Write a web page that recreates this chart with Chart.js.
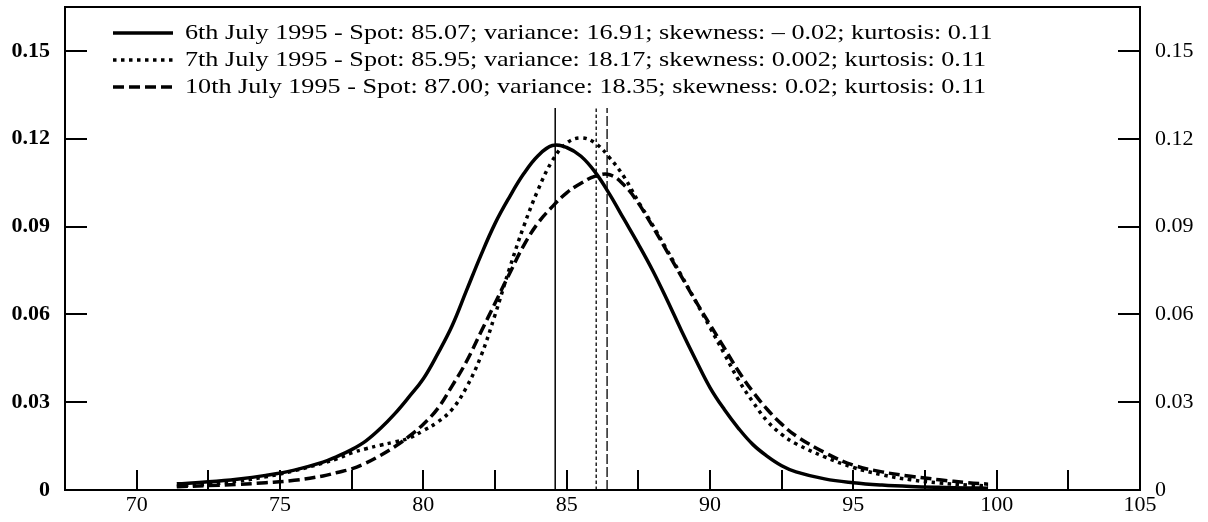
<!DOCTYPE html>
<html>
<head>
<meta charset="utf-8">
<script src="https://cdn.jsdelivr.net/npm/chart.js@4.4.1/dist/chart.umd.min.js"></script>
<style>
    html, body { margin: 0; padding: 0; background: #fff; }
    #wrap { width: 1208px; height: 522px; }
</style>
</head>
<body>
<div id="wrap"><canvas id="density-graph"></canvas></div>
<script>
const seriesLabels = [
    '6th July 1995 - Spot: 85.07; variance: 16.91; skewness: \u2013 0.02; kurtosis: 0.11',
    '7th July 1995 - Spot: 85.95; variance: 18.17; skewness: 0.002; kurtosis: 0.11',
    '10th July 1995 - Spot: 87.00; variance: 18.35; skewness: 0.02; kurtosis: 0.11'
];

// price grid shared by the three densities
const priceGrid = [71.4, 72.5, 73.5, 74.5, 75.5, 76.5,
    77, 77.5, 78, 78.5, 79, 79.5, 80, 80.5, 81, 81.5, 82, 82.5, 83, 83.5, 84, 84.5,
    85, 85.5, 86, 86.5, 87, 87.5, 88, 88.5, 89, 89.5, 90, 90.5, 91, 91.5, 92, 92.5, 93,
    94, 95, 96, 97, 98, 99, 99.7];

const july6 = [0.0021, 0.0028, 0.0037, 0.005, 0.0068, 0.0095,
    0.0115, 0.0138, 0.0168, 0.021, 0.026, 0.0318, 0.038, 0.0465, 0.056, 0.068, 0.080, 0.091, 0.100, 0.108, 0.1142, 0.1177,
    0.117, 0.114, 0.1085, 0.101, 0.0925, 0.084, 0.075, 0.065, 0.0545, 0.0445, 0.035, 0.0275, 0.021, 0.0155, 0.0115, 0.0083, 0.0062,
    0.0038, 0.0025, 0.0017, 0.0012, 0.0009, 0.0007, 0.0006];

const july7 = [0.0014, 0.002, 0.003, 0.0045, 0.0066, 0.0092,
    0.0107, 0.0127, 0.0141, 0.0153, 0.0164, 0.0177, 0.0203, 0.0232, 0.0275, 0.035, 0.0455, 0.0598, 0.0755, 0.090, 0.1025, 0.1125,
    0.1185, 0.1203, 0.1185, 0.1135, 0.107, 0.0985, 0.0905, 0.082, 0.0733, 0.0645, 0.0555, 0.0465, 0.0375, 0.030, 0.0235, 0.019, 0.0158,
    0.0113, 0.0077, 0.0052, 0.0035, 0.0024, 0.0017, 0.0014];

const july10 = [0.0011, 0.0015, 0.0019, 0.0025, 0.0033, 0.0048,
    0.006, 0.0072, 0.0092, 0.0118, 0.0148, 0.0183, 0.0225, 0.0278, 0.0355, 0.0438, 0.0538, 0.0638, 0.0738, 0.0835, 0.0912, 0.0968,
    0.1015, 0.1048, 0.1072, 0.1077, 0.1042, 0.098, 0.090, 0.0815, 0.073, 0.0645, 0.0565, 0.0485, 0.0405, 0.0335, 0.0275, 0.0225, 0.0185,
    0.0128, 0.0085, 0.0062, 0.0047, 0.0035, 0.0025, 0.002];

// vertical reference lines, one per day
const markerX = [84.6, 86.03, 86.41];
const markerTop = 0.1305;

const xTicks = [70, 75, 80, 85, 90, 95, 100, 105];
const xMinorTicks = [72.5, 77.5, 82.5, 87.5, 92.5, 97.5, 102.5];
const yTicks = [0, 0.03, 0.06, 0.09, 0.12, 0.15];
const yTickLabels = ['0', '0.03', '0.06', '0.09', '0.12', '0.15'];

const serif = "'Liberation Serif', 'DejaVu Serif', serif";

const curveStyles = [
    { width: 3.5, dash: [] },
    { width: 3.5, dash: [3.5, 4.5] },
    { width: 3.5, dash: [11, 5] }
];
const markerStyles = [
    { width: 1.5, dash: [] },
    { width: 1.3, dash: [3.5, 2.5] },
    { width: 1.3, dash: [10, 3] }
];

let densityChart = null;

document.addEventListener('DOMContentLoaded', function () {
    renderDensityGraph();
});

function toPoints(xs, ys) {
    return xs.map((x, i) => ({ x: x, y: ys[i] }));
}

// frame, inward ticks and the legend inside the plot
const framePlugin = {
    id: 'frame',
    afterDraw(chart) {
        const ctx = chart.ctx;
        const area = chart.chartArea;
        const xs = chart.scales.x;
        const ys = chart.scales.y;

        ctx.save();
        ctx.strokeStyle = '#000';
        ctx.lineWidth = 2;
        ctx.setLineDash([]);
        ctx.strokeRect(area.left, area.top, area.right - area.left, area.bottom - area.top);

        ctx.beginPath();
        xTicks.concat(xMinorTicks).forEach(v => {
            const px = Math.round(xs.getPixelForValue(v));
            if (px >= area.right - 1) return;
            ctx.moveTo(px, area.bottom);
            ctx.lineTo(px, area.bottom - 20);
        });
        yTicks.forEach(v => {
            const py = Math.round(ys.getPixelForValue(v));
            ctx.moveTo(area.left, py);
            ctx.lineTo(area.left + 22, py);
            ctx.moveTo(area.right, py);
            ctx.lineTo(area.right - 22, py);
        });
        ctx.stroke();

        // legend, text drawn a bit wider like the original typesetting
        const lx = area.left + 48;
        ctx.font = '22px ' + serif;
        ctx.fillStyle = '#000';
        ctx.textBaseline = 'middle';
        ctx.textAlign = 'left';
        chart.data.datasets.forEach((ds, i) => {
            if (!ds.inLegend) return;
            const ly = area.top + 26 + i * 27;
            ctx.beginPath();
            ctx.lineWidth = ds.borderWidth;
            ctx.setLineDash(ds.borderDash);
            ctx.moveTo(lx, ly);
            ctx.lineTo(lx + 60, ly);
            ctx.stroke();
            ctx.setLineDash([]);
            ctx.save();
            ctx.translate(lx + 72, ly);
            ctx.scale(1.19, 1);
            ctx.fillText(ds.label, 0, 0);
            ctx.restore();
        });
        ctx.restore();
    }
};

function renderDensityGraph() {
    const ctx = document.getElementById('density-graph').getContext('2d');

    if (densityChart !== null) {
        densityChart.destroy();
    }

    const curves = [july6, july7, july10].map(ys => toPoints(priceGrid, ys));

    const datasets = curves.map((pts, i) => ({
        label: seriesLabels[i],
        data: pts,
        inLegend: true,
        borderColor: '#000',
        borderWidth: curveStyles[i].width,
        borderDash: curveStyles[i].dash,
        pointRadius: 0,
        fill: false,
        tension: 0.4
    }));

    markerX.forEach((m, i) => {
        datasets.push({
            label: 'marker ' + i,
            data: [{ x: m, y: 0 }, { x: m, y: markerTop }],
            inLegend: false,
            borderColor: '#000',
            borderWidth: markerStyles[i].width,
            borderDash: markerStyles[i].dash,
            pointRadius: 0,
            fill: false
        });
    });

    const fitY = width => scale => {
        scale.width = width;
        scale.paddingTop = 0;
        scale.paddingBottom = 0;
    };

    const yAxisBase = {
        type: 'linear',
        min: 0,
        max: 0.165,
        grid: { display: false, drawTicks: false },
        border: { display: false },
        afterBuildTicks: scale => { scale.ticks = yTicks.map(v => ({ value: v })); }
    };

    densityChart = new Chart(ctx, {
        type: 'line',
        data: { datasets: datasets },
        plugins: [framePlugin],
        options: {
            responsive: true,
            maintainAspectRatio: false,
            animation: false,
            layout: { padding: { top: 7, left: 0, right: 0, bottom: 0 } },
            scales: {
                x: {
                    type: 'linear',
                    min: 67.5,
                    max: 105,
                    grid: { display: false, drawTicks: false },
                    border: { display: false },
                    afterBuildTicks: scale => { scale.ticks = xTicks.map(v => ({ value: v })); },
                    afterFit: scale => {
                        scale.height = 32;
                        scale.paddingLeft = 0;
                        scale.paddingRight = 0;
                    },
                    ticks: {
                        padding: 2,
                        maxRotation: 0,
                        color: '#000',
                        font: { family: serif, size: 22 },
                        callback: v => String(v)
                    }
                },
                y: Object.assign({}, yAxisBase, {
                    position: 'left',
                    afterFit: fitY(65),
                    ticks: {
                        padding: 15,
                        color: '#000',
                        font: { family: serif, size: 22, weight: 'bold' },
                        callback: (v, i) => yTickLabels[i]
                    }
                }),
                y2: Object.assign({}, yAxisBase, {
                    position: 'right',
                    afterFit: fitY(68),
                    ticks: {
                        padding: 15,
                        color: '#000',
                        font: { family: serif, size: 22 },
                        callback: (v, i) => yTickLabels[i]
                    }
                })
            },
            plugins: {
                legend: { display: false },
                tooltip: { enabled: false }
            }
        }
    });
}
</script>
</body>
</html>
